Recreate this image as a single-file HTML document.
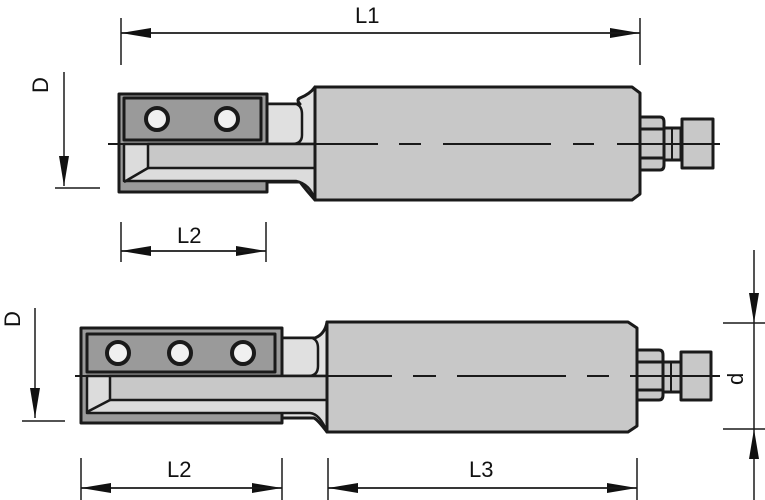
<!DOCTYPE html>
<html><head><style>html,body{margin:0;padding:0;background:#fff}svg{display:block}</style></head>
<body>
<svg width="765" height="500" viewBox="0 0 765 500" xmlns="http://www.w3.org/2000/svg" font-family="Liberation Sans, sans-serif">
<defs>
<marker id="a" viewBox="0 0 30 10" refX="30" refY="5" markerWidth="30" markerHeight="10" markerUnits="userSpaceOnUse" orient="auto"><path d="M0,0L30,5L0,10z" fill="#111"/></marker>
</defs>
<g stroke="#1a1a1a" stroke-width="1.5" fill="none">
<line x1="121" y1="18" x2="121" y2="65"/><line x1="640" y1="18" x2="640" y2="65"/>
<line x1="121" y1="33" x2="640" y2="33" marker-end="url(#a)"/><line x1="640" y1="33" x2="121" y2="33" marker-end="url(#a)"/>
<line x1="64" y1="72" x2="64" y2="186" marker-end="url(#a)"/><line x1="55" y1="188" x2="100" y2="188"/>
<line x1="121" y1="222" x2="121" y2="262"/><line x1="266" y1="222" x2="266" y2="262"/>
<line x1="121" y1="251" x2="266" y2="251" marker-end="url(#a)"/><line x1="266" y1="251" x2="121" y2="251" marker-end="url(#a)"/>
<line x1="35" y1="308" x2="35" y2="418" marker-end="url(#a)"/><line x1="22" y1="421" x2="65" y2="421"/>
<line x1="81" y1="458" x2="81" y2="500"/><line x1="282" y1="458" x2="282" y2="500"/>
<line x1="328" y1="458" x2="328" y2="500"/><line x1="637" y1="458" x2="637" y2="500"/>
<line x1="81" y1="488" x2="282" y2="488" marker-end="url(#a)"/><line x1="282" y1="488" x2="81" y2="488" marker-end="url(#a)"/>
<line x1="328" y1="488" x2="637" y2="488" marker-end="url(#a)"/><line x1="637" y1="488" x2="328" y2="488" marker-end="url(#a)"/>
<line x1="754" y1="250" x2="754" y2="323" marker-end="url(#a)"/><line x1="754" y1="500" x2="754" y2="429" marker-end="url(#a)"/>
<line x1="754" y1="323" x2="754" y2="429"/>
<line x1="723" y1="323" x2="765" y2="323"/><line x1="723" y1="429" x2="765" y2="429"/>
</g>
<g font-size="22" fill="#111">
<text x="355" y="23">L1</text>
<text x="177" y="243">L2</text>
<text x="167" y="477">L2</text>
<text x="469" y="477">L3</text>
<text transform="translate(48,93) rotate(-90)">D</text>
<text transform="translate(20,327) rotate(-90)">D</text>
<text transform="translate(743,385) rotate(-90)">d</text>
</g>
<g stroke="#1a1a1a" stroke-width="3" stroke-linejoin="round">
<path d="M267,104 H300 Q296,100 300,98 Q310,94 315,87 V200 Q306,190 300,182 H267 Z" fill="#e2e2e2"/>
<path d="M267,104 H296 Q302,106 302,114 V135 Q302,144 292,144 H267 Z" fill="#e0e0e0" stroke-width="2.5"/>
<path d="M119,94 H267 V192 H119 Z" fill="#9a9a9a"/>
<path d="M124,98 H261 V140 H124 Z" fill="#9a9a9a"/>
<path d="M124,144 H300 Q308,144 315,144 V200 Q310,184 296,181 H124 Z" fill="#dcdcdc" stroke-width="2.5"/>
<path d="M148,144 H315 V168 Q305,168 296,168 H148 Z" fill="#c8c8c8" stroke-width="2.5"/>
<line x1="124" y1="182" x2="148" y2="168" stroke-width="2.5"/>
<path d="M315,87 H632 L640,93 V194 L632,200 H315 Z" fill="#c8c8c8"/>
<circle cx="157" cy="119" r="11" fill="#f0f0f0" stroke-width="4"/>
<circle cx="227" cy="119" r="11" fill="#f0f0f0" stroke-width="4"/>
<path d="M640,117 H660 Q664,117 664,122 V165 Q664,170 660,170 H640 Z" fill="#c8c8c8"/>
<line x1="640" y1="129" x2="664" y2="129"/><line x1="640" y1="158" x2="664" y2="158"/>
<path d="M664,128 H681 V160 H664 Z" fill="#c8c8c8"/>
<line x1="672" y1="128" x2="672" y2="160" stroke-width="2"/>
<path d="M682,119 H713 V168 H682 Z" fill="#c8c8c8"/>
<path d="M282,338 H315 Q325,334 327,322 V432 Q318,420 314,418 H282 Z" fill="#e2e2e2"/>
<path d="M282,338 H312 Q318,340 318,348 V366 Q318,376 308,376 H282 Z" fill="#e0e0e0" stroke-width="2.5"/>
<path d="M81,328 H282 V423 H81 Z" fill="#9a9a9a"/>
<path d="M87,334 H275 V372 H87 Z" fill="#9a9a9a"/>
<path d="M87,376 H327 V432 Q320,414 310,413 H87 Z" fill="#dcdcdc" stroke-width="2.5"/>
<path d="M110,376 H327 V400 H110 Z" fill="#c8c8c8" stroke-width="2.5"/>
<line x1="87" y1="412" x2="110" y2="400" stroke-width="2.5"/>
<path d="M327,322 H628 L637,328 V426 L628,432 H327 Z" fill="#c8c8c8"/>
<circle cx="118" cy="353" r="11" fill="#f0f0f0" stroke-width="4"/>
<circle cx="180" cy="353" r="11" fill="#f0f0f0" stroke-width="4"/>
<circle cx="243" cy="353" r="11" fill="#f0f0f0" stroke-width="4"/>
<path d="M637,350 H659 Q663,350 663,355 V395 Q663,400 659,400 H637 Z" fill="#c8c8c8"/>
<line x1="637" y1="362" x2="663" y2="362"/><line x1="637" y1="390" x2="663" y2="390"/>
<path d="M663,362 H681 V392 H663 Z" fill="#c8c8c8"/>
<line x1="671" y1="362" x2="671" y2="392" stroke-width="2"/>
<path d="M681,352 H711 V400 H681 Z" fill="#c8c8c8"/>
</g>
<g stroke="#1a1a1a" stroke-width="2">
<line x1="108" y1="144" x2="378" y2="144"/>
<line x1="399" y1="144" x2="421" y2="144"/>
<line x1="443" y1="144" x2="551" y2="144"/>
<line x1="573" y1="144" x2="594" y2="144"/>
<line x1="617" y1="144" x2="720" y2="144"/>
<line x1="75" y1="376" x2="392" y2="376"/>
<line x1="413" y1="376" x2="436" y2="376"/>
<line x1="457" y1="376" x2="566" y2="376"/>
<line x1="587" y1="376" x2="609" y2="376"/>
<line x1="630" y1="376" x2="720" y2="376"/>
</g>
</svg>
</body></html>
